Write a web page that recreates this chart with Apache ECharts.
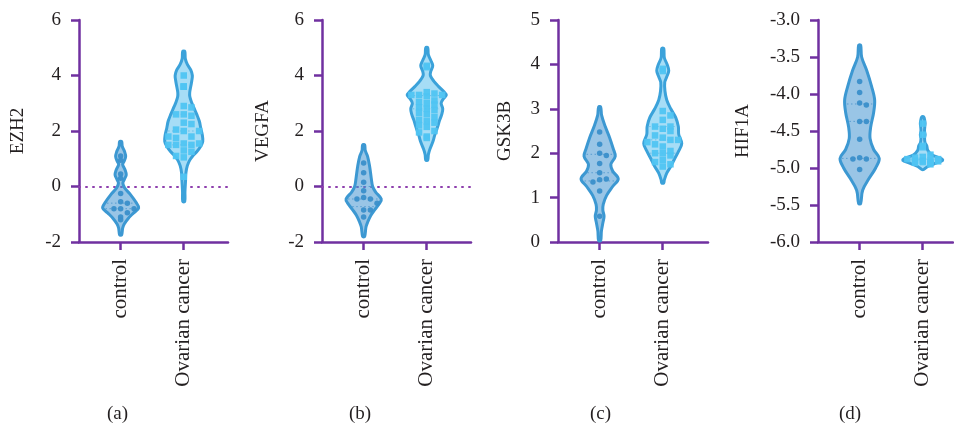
<!DOCTYPE html>
<html>
<head>
<meta charset="utf-8">
<script src="https://cdn.jsdelivr.net/npm/echarts@6/dist/echarts.min.js"></script>
<style>html,body{margin:0;padding:0;background:#fff}#c{width:954px;height:425px}</style>
</head>
<body>
<div id="c"></div>
<script>
// ---------------- DATA ----------------
const categories = ['control', 'Ovarian cancer'];
const genes = ['EZH2', 'VEGFA', 'GSK3B', 'HIF1A'];
const panelTags = ['(a)', '(b)', '(c)', '(d)'];

// individual sample values
const ezh2Control = [1.1, 0.95, 0.45, 0.3, -0.25, -0.55, -0.6, -0.8, -0.8, -0.8, -0.95, -1.1, -1.2];
const ezh2Cancer = [4.0, 3.6, 3.6, 3.6, 2.9, 2.85, 2.6, 2.6, 2.55, 2.3, 2.25, 2.0, 2.0, 2.05, 1.8, 1.8, 1.75, 1.55, 1.5, 1.5, 1.5, 1.55, 1.3, 1.25, 1.1, 1.05, 0.35];
const vegfaControl = [0.85, 0.5, 0.15, -0.15, -0.4, -0.45, -0.45, -0.6, -0.85, -0.85, -1.1];
const vegfaCancer = [4.35, 4.3, 3.4, 3.35, 3.3, 3.3, 3.3, 3.25, 3.1, 3.05, 3.0, 2.95, 2.85, 2.8, 2.75, 2.65, 2.6, 2.5, 2.4, 2.35, 2.3, 2.2, 2.15, 2.0, 1.95, 1.8, 1.75];
const gsk3bControl = [2.48, 2.2, 2.0, 1.95, 1.77, 1.56, 1.42, 1.4, 1.35, 1.15, 0.58];
const gsk3bCancer = [3.9, 3.85, 2.95, 2.85, 2.75, 2.6, 2.6, 2.55, 2.5, 2.4, 2.35, 2.3, 2.3, 2.25, 2.2, 2.15, 2.05, 2.0, 2.0, 1.95, 1.85, 1.8, 1.75, 1.7];
const hif1aControl = [-3.83, -3.98, -4.12, -4.15, -4.37, -4.37, -4.61, -4.86, -4.88, -4.88, -5.02];
const hif1aCancer = [-4.4, -4.55, -4.7, -4.72, -4.82, -4.85, -4.86, -4.88, -4.88, -4.9, -4.9, -4.9, -4.91, -4.92, -4.92, -4.93, -4.95];

// violin density profiles: levels and relative density (1 = widest)
const ezh2ControlLevels = [1.62, 1.45, 1.25, 1.08, 0.92, 0.8, 0.6, 0.42, 0.25, 0.12, -0.05, -0.3, -0.55, -0.77, -0.95, -1.15, -1.35, -1.5, -1.74];
const ezh2ControlDensity = [0, 0.08, 0.2, 0.25, 0.18, 0.1, 0.22, 0.28, 0.18, 0.11, 0.2, 0.5, 0.75, 0.9, 0.65, 0.38, 0.18, 0.1, 0];
const ezh2CancerLevels = [4.87, 4.6, 4.4, 4.2, 4.0, 3.8, 3.6, 3.4, 3.25, 3.05, 2.85, 2.6, 2.35, 2.1, 1.85, 1.62, 1.45, 1.25, 1.1, 0.95, 0.75, 0.5, 0.2, -0.2, -0.54];
const ezh2CancerDensity = [0, 0.08, 0.18, 0.35, 0.43, 0.4, 0.35, 0.3, 0.3, 0.38, 0.5, 0.65, 0.78, 0.85, 0.93, 0.95, 0.85, 0.65, 0.45, 0.3, 0.18, 0.11, 0.09, 0.06, 0];
const vegfaControlLevels = [1.5, 1.3, 1.08, 0.72, 0.3, 0.0, -0.2, -0.45, -0.6, -0.84, -1.05, -1.25, -1.45, -1.8];
const vegfaControlDensity = [0, 0.08, 0.2, 0.3, 0.38, 0.45, 0.6, 0.88, 0.8, 0.55, 0.35, 0.22, 0.12, 0];
const vegfaCancerLevels = [5.0, 4.75, 4.55, 4.35, 4.15, 4.0, 3.8, 3.6, 3.42, 3.3, 3.15, 3.0, 2.8, 2.6, 2.4, 2.1, 1.85, 1.6, 1.35, 1.15, 0.95];
const vegfaCancerDensity = [0, 0.08, 0.2, 0.3, 0.2, 0.18, 0.35, 0.6, 0.85, 0.98, 0.82, 0.72, 0.8, 0.75, 0.65, 0.52, 0.4, 0.3, 0.16, 0.08, 0];
const gsk3bControlLevels = [3.04, 2.85, 2.6, 2.35, 2.1, 1.93, 1.75, 1.6, 1.42, 1.25, 1.05, 0.85, 0.72, 0.58, 0.45, 0.25, 0.03];
const gsk3bControlDensity = [0, 0.1, 0.28, 0.5, 0.68, 0.78, 0.56, 0.65, 0.93, 0.65, 0.35, 0.18, 0.16, 0.22, 0.17, 0.09, 0];
const gsk3bCancerLevels = [4.36, 4.15, 4.0, 3.86, 3.72, 3.6, 3.4, 3.2, 3.0, 2.8, 2.6, 2.42, 2.22, 2.05, 1.88, 1.7, 1.55, 1.4, 1.33];
const gsk3bCancerDensity = [0, 0.08, 0.22, 0.3, 0.2, 0.1, 0.11, 0.2, 0.4, 0.65, 0.78, 0.8, 0.95, 0.8, 0.6, 0.4, 0.2, 0.08, 0];
const hif1aControlLevels = [-3.34, -3.5, -3.68, -3.9, -4.08, -4.25, -4.45, -4.6, -4.75, -4.87, -5.0, -5.15, -5.3, -5.48];
const hif1aControlDensity = [0, 0.1, 0.35, 0.6, 0.75, 0.7, 0.55, 0.52, 0.7, 0.98, 0.8, 0.45, 0.15, 0];
const hif1aCancerLevels = [-4.31, -4.36, -4.4, -4.45, -4.5, -4.55, -4.6, -4.66, -4.7, -4.76, -4.82, -4.89, -4.94, -4.98, -5.02];
const hif1aCancerDensity = [0, 0.1, 0.12, 0.1, 0.09, 0.12, 0.09, 0.12, 0.2, 0.25, 0.45, 1.0, 0.6, 0.25, 0];

// axis ticks: min, max, interval, decimals
const yRanges = [[-2, 6, 2, 0], [-2, 6, 2, 0], [0, 5, 1, 0], [-6, -3, 0.5, 1]];

const samples = [[ezh2Control, ezh2Cancer], [vegfaControl, vegfaCancer], [gsk3bControl, gsk3bCancer], [hif1aControl, hif1aCancer]];
const shapes = [
  [[ezh2ControlLevels, ezh2ControlDensity], [ezh2CancerLevels, ezh2CancerDensity]],
  [[vegfaControlLevels, vegfaControlDensity], [vegfaCancerLevels, vegfaCancerDensity]],
  [[gsk3bControlLevels, gsk3bControlDensity], [gsk3bCancerLevels, gsk3bCancerDensity]],
  [[hif1aControlLevels, hif1aControlDensity], [hif1aCancerLevels, hif1aCancerDensity]]
];

// ---------------- LAYOUT / STYLE ----------------
const layout = [
  { left: 79, width: 149, nameGap: 51, tagX: 119, zero: true },
  { left: 322, width: 149, nameGap: 49, tagX: 361, zero: true },
  { left: 558, width: 150, nameGap: 43, tagX: 602, zero: false },
  { left: 818, width: 135, nameGap: 65, tagX: 851, zero: false }
];
const TOP = 20, HEIGHT = 222;
const XMIN = -0.66, PX_PER_X = 63.1;
const HALF_PX = 20;
const PURPLE = '#7030a0';
const SERIF = '"Liberation Serif", "DejaVu Serif", serif';
const groupStyle = [
  { fill: 'rgba(70,150,210,0.55)', stroke: '#3c98d2', point: '#3a8fca', symbol: 'circle', size: 5.5, q: 'rgba(60,140,200,0.7)' },
  { fill: 'rgba(150,215,245,0.85)', stroke: '#3ba2da', point: '#4fc4f2', symbol: 'rect', size: 6.5, q: 'rgba(70,170,220,0.6)' }
];

function densityAt(levels, dens, v) {
  for (let i = 0; i < levels.length - 1; i++) {
    const a = levels[i], b = levels[i + 1];
    if (v <= a && v >= b) {
      const t = (a - v) / (a - b);
      return dens[i] + t * (dens[i + 1] - dens[i]);
    }
  }
  return 0;
}
function quantile(arr, p) {
  const s = arr.slice().sort((a, b) => a - b);
  const pos = (s.length - 1) * p, lo = Math.floor(pos), hi = Math.ceil(pos);
  return s[lo] + (s[hi] - s[lo]) * (pos - lo);
}
// beeswarm layout kept inside the violin outline; returns x offsets in axis units
function swarm(values, levels, dens, yPxPerUnit, size) {
  const order = values.map((v, i) => i).sort((a, b) => values[b] - values[a]);
  const placed = [];
  const off = new Array(values.length).fill(0);
  const step = size + 1.2;
  order.forEach(i => {
    const y = values[i] * yPxPerUnit;
    const limit = Math.max(0, densityAt(levels, dens, values[i]) * HALF_PX - 1);
    const cands = [0];
    for (let k = 1; k * step <= limit + 0.01; k++) { cands.push(k * step, -k * step); }
    let best = 0, bestScore = Infinity;
    for (const cand of cands) {
      let score = 0;
      placed.forEach(p => {
        const dx = Math.abs(p.x - cand), dy = Math.abs(p.y - y);
        if (dx < size + 1 && dy < size + 1) score += (size + 1 - dx) * (size + 1 - dy);
      });
      if (score < bestScore - 1e-9) { bestScore = score; best = cand; }
      if (score === 0) break;
    }
    placed.push({ x: best, y: y });
    off[i] = best / PX_PER_X;
  });
  return off;
}

const grids = [], xAxes = [], yAxes = [], series = [], graphics = [];
layout.forEach((L, p) => {
  const [ymin, ymax, step, dec] = yRanges[p];
  grids.push({ left: L.left, top: TOP, width: L.width, height: HEIGHT });
  xAxes.push({
    gridIndex: p, type: 'value', min: XMIN, max: XMIN + L.width / PX_PER_X,
    splitLine: { show: false },
    axisLine: { show: true, onZero: false, lineStyle: { color: PURPLE, width: 2.5 } },
    axisTick: { show: true, customValues: [0, 1], length: 8, lineStyle: { color: PURPLE, width: 2.5 } },
    axisLabel: {
      customValues: [0, 1], rotate: 90, margin: 17,
      formatter: v => categories[Math.round(v)],
      fontFamily: SERIF, fontSize: 21, color: '#231f20'
    }
  });
  yAxes.push({
    gridIndex: p, type: 'value', min: ymin, max: ymax, interval: step,
    name: genes[p], nameLocation: 'middle', nameGap: L.nameGap, nameRotate: 90,
    nameTextStyle: { fontFamily: SERIF, fontSize: 19, color: '#231f20' },
    splitLine: { show: false },
    axisLine: { show: true, onZero: false, lineStyle: { color: PURPLE, width: 2.5 } },
    axisTick: { show: true, length: 8, lineStyle: { color: PURPLE, width: 2.5 } },
    axisLabel: { margin: 18, fontFamily: SERIF, fontSize: 19, color: '#231f20', formatter: v => v.toFixed(dec) }
  });
  const yPx = HEIGHT / (ymax - ymin);

  // violins
  series.push({
    type: 'custom', xAxisIndex: p, yAxisIndex: p, silent: true, z: 2,
    data: [[0], [1]],
    renderItem: (params, api) => {
      const g = params.dataIndex;
      const [levels, dens] = shapes[p][g];
      const st = groupStyle[g];
      const right = [], left = [];
      levels.forEach((v, i) => {
        const c = api.coord([g, v]);
        const w = Math.max(dens[i] * HALF_PX, 1);
        right.push([c[0] + w, c[1]]);
        left.push([c[0] - w, c[1]]);
      });
      const pts = right.concat(left.reverse());
      const children = [{
        type: 'polygon', shape: { points: pts, smooth: 0.35 },
        style: { fill: st.fill, stroke: st.stroke, lineWidth: 3, lineJoin: 'round' }
      }];
      const vals = samples[p][g];
      [0.25, 0.5, 0.75].forEach(q => {
        const v = quantile(vals, q);
        const c = api.coord([g, v]);
        const w = densityAt(levels, dens, v) * HALF_PX - 2;
        if (w > 1) children.push({
          type: 'line', shape: { x1: c[0] - w, y1: c[1], x2: c[0] + w, y2: c[1] },
          style: { stroke: st.q, lineWidth: 1, lineDash: [1.5, 2.5] }
        });
      });
      return { type: 'group', children: children };
    }
  });

  // points
  [0, 1].forEach(g => {
    const vals = samples[p][g];
    const st = groupStyle[g];
    const [levels, dens] = shapes[p][g];
    const offs = swarm(vals, levels, dens, yPx, st.size);
    const s = {
      type: 'scatter', xAxisIndex: p, yAxisIndex: p, silent: true, z: 3,
      symbol: st.symbol, symbolSize: st.size,
      itemStyle: { color: st.point, opacity: 0.95 },
      data: vals.map((v, i) => [g + offs[i], v])
    };
    if (g === 0 && L.zero) {
      s.markLine = {
        silent: true, symbol: 'none', label: { show: false }, z: 1,
        lineStyle: { color: '#8e3fae', width: 2, type: [1, 6], cap: 'round' },
        data: [{ yAxis: 0 }]
      };
    }
    series.push(s);
  });

  graphics.push({
    type: 'text', left: L.tagX - 12, top: 405,
    style: { text: panelTags[p], font: '19px ' + SERIF, fill: '#231f20' }
  });
});

const chart = echarts.init(document.getElementById('c'), null, { renderer: 'canvas' });
chart.setOption({
  animation: false,
  backgroundColor: '#fff',
  grid: grids, xAxis: xAxes, yAxis: yAxes, series: series, graphic: graphics
});
</script>
</body>
</html>
